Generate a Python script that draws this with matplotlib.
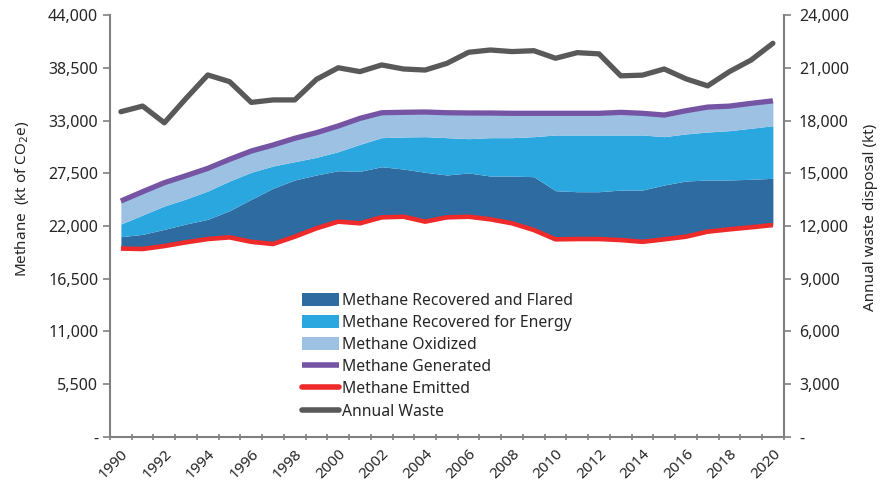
import numpy as np
import matplotlib.pyplot as plt
from matplotlib.patches import Patch
from matplotlib.lines import Line2D
from matplotlib.ticker import FuncFormatter

plt.rcParams['font.family'] = ['Noto Sans', 'DejaVu Sans']

years = list(range(1990, 2021))

# kt CO2e, stacked: emitted at the bottom, then flared, energy, oxidized
emitted = [19650, 19600, 19910, 20300, 20640, 20815, 20350, 20120, 20885, 21760,
           22455, 22280, 22900, 22970, 22455, 22900, 22970, 22695, 22280, 21580,
           20610, 20640, 20640, 20535, 20350, 20610, 20885, 21410, 21650, 21865, 22100]
flared = [1235, 1530, 1740, 1910, 2055, 2785, 4430, 5810, 5915, 5560,
          5310, 5420, 5280, 4970, 5145, 4420, 4560, 4515, 4930, 5560,
          5070, 4935, 4935, 5215, 5400, 5665, 5805, 5390, 5150, 5005, 4870]
energy = [1320, 2015, 2435, 2610, 2955, 3090, 2820, 2325, 1905, 1840,
          1985, 2815, 3030, 3340, 3715, 3890, 3575, 4000, 4000, 4175,
          5810, 5915, 5915, 5740, 5740, 5040, 4910, 5000, 5140, 5320, 5490]
oxidized = [2400, 2430, 2430, 2430, 2360, 2260, 2220, 2190, 2440, 2570,
            2680, 2710, 2600, 2575, 2570, 2600, 2680, 2570, 2540, 2435,
            2260, 2260, 2260, 2360, 2260, 2255, 2420, 2600, 2560, 2600, 2590]

# kt, right axis
annual_waste = [18500, 18820, 17870, 19260, 20590, 20210, 19030, 19170, 19170, 20340,
                21000, 20780, 21160, 20930, 20870, 21250, 21880, 22010, 21920, 21970,
                21540, 21860, 21790, 20540, 20580, 20930, 20370, 19970, 20780, 21440, 22390]

c_flared = '#2E6BA0'
c_energy = '#2AA7DE'
c_oxid = '#9DC1E3'
c_gen = '#7654A4'
c_emit = '#EE2A2A'
c_waste = '#595959'
c_axis = '#808080'
c_text = '#262626'

x = np.array(years)
lvl0 = np.array(emitted)
lvl1 = lvl0 + np.array(flared)
lvl2 = lvl1 + np.array(energy)
generated = lvl2 + np.array(oxidized)

fig = plt.figure(figsize=(8.83, 4.92), dpi=100)
ax = fig.add_axes([0.1246, 0.1118, 0.763, 0.8577])

ax.fill_between(x, lvl0, lvl1, color=c_flared, lw=0)
ax.fill_between(x, lvl1, lvl2, color=c_energy, lw=0)
ax.fill_between(x, lvl2, generated, color=c_oxid, lw=0)
ax.plot(x, generated, color=c_gen, lw=3.8, solid_capstyle='butt')
ax.plot(x, emitted, color=c_emit, lw=3.3, solid_capstyle='butt')

ax.set_xlim(1989.5, 2020.5)
ax.set_ylim(0, 44000)
ax.set_yticks(np.arange(0, 44001, 5500))

fmt = FuncFormatter(lambda v, p: '-' if v == 0 else f'{v:,.0f}')
ax.yaxis.set_major_formatter(fmt)

ax.set_xticks(years[::2])
ax.set_xticklabels([str(y) for y in years[::2]], rotation=45, ha='right',
                   rotation_mode='anchor', fontsize=11, color=c_text)
ax.set_xticks(np.arange(1989.5, 2021, 1), minor=True)
ax.tick_params(axis='x', which='major', length=0, pad=7)
ax.tick_params(axis='x', which='minor', length=5, direction='inout', color=c_axis, width=1.2)
ax.tick_params(axis='y', length=5, color=c_axis, width=1.2, labelsize=11.5, labelcolor=c_text)

for s in ['top', 'right']:
    ax.spines[s].set_visible(False)
for s in ['left', 'bottom']:
    ax.spines[s].set_color(c_axis)
    ax.spines[s].set_linewidth(1.5)

ax.set_ylabel('Methane  (kt of CO$_2$e)', fontsize=11, color=c_text)
ax.yaxis.set_label_coords(-0.118, 0.565)

ax2 = ax.twinx()
ax2.plot(x, annual_waste, color=c_waste, lw=3.8, solid_capstyle='round')
ax2.set_ylim(0, 24000)
ax2.set_yticks(np.arange(0, 24001, 3000))
ax2.yaxis.set_major_formatter(fmt)
ax2.tick_params(axis='y', length=5, color=c_axis, width=1.2, labelsize=11.5, labelcolor=c_text, pad=6)
for s in ['top', 'left', 'bottom']:
    ax2.spines[s].set_visible(False)
ax2.spines['right'].set_color(c_axis)
ax2.spines['right'].set_linewidth(1.5)
ax2.set_ylabel('Annual waste disposal (kt)', fontsize=11, color=c_text)
ax2.yaxis.set_label_coords(1.118, 0.521)

handles = [
    Patch(facecolor=c_flared, edgecolor='none'),
    Patch(facecolor=c_energy, edgecolor='none'),
    Patch(facecolor=c_oxid, edgecolor='none'),
    Line2D([], [], color=c_gen, lw=4, solid_capstyle='butt'),
    Line2D([], [], color=c_emit, lw=4, solid_capstyle='round'),
    Line2D([], [], color=c_waste, lw=4, solid_capstyle='round'),
]
labels = ['Methane Recovered and Flared', 'Methane Recovered for Energy',
          'Methane Oxidized', 'Methane Generated', 'Methane Emitted', 'Annual Waste']
ax2.legend(handles, labels, loc='upper left', bbox_to_anchor=(0.274, 0.36),
           frameon=False, fontsize=11.3, handlelength=2.3, handleheight=0.9,
           handletextpad=0.2, labelspacing=0.39, borderpad=0, labelcolor=c_text)

fig.savefig('out.png', dpi=100)
